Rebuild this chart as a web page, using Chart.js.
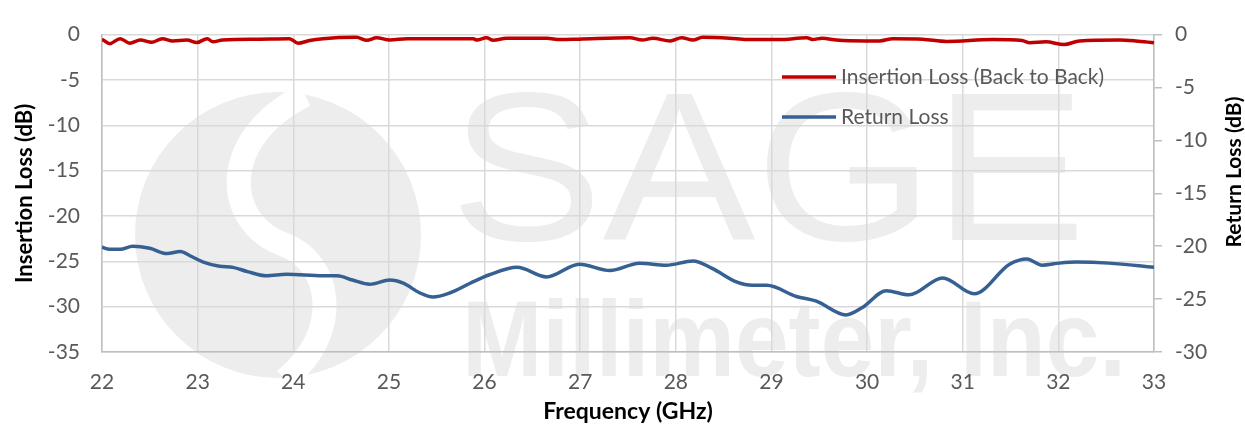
<!DOCTYPE html>
<html>
<head>
<meta charset="utf-8">
<script src="https://cdn.jsdelivr.net/npm/chart.js@4/dist/chart.umd.min.js"></script>
<style>
  html, body { margin: 0; padding: 0; background: #fff; }
</style>
</head>
<body>
<canvas id="chartLoss" width="1245" height="426"></canvas>
<script>
// frequency points (GHz)
const freqIL = [22.00, 22.08, 22.19, 22.29, 22.40, 22.52, 22.63, 22.74, 22.89, 22.99,
    23.10, 23.16, 23.26, 23.65, 23.96, 24.05, 24.17, 24.31, 24.66, 24.77,
    24.87, 25.01, 25.19, 25.53, 25.88, 25.92, 26.02, 26.09, 26.23, 26.65,
    26.79, 26.99, 27.52, 27.65, 27.76, 27.94, 28.06, 28.18, 28.28, 28.56,
    28.74, 29.08, 29.37, 29.43, 29.53, 29.68, 29.99, 30.13, 30.27, 30.58,
    30.83, 31.31, 31.62, 31.70, 31.87, 32.06, 32.22, 32.64, 32.81, 33.00];
const insertionLoss = [-0.5, -1.0, -0.45, -0.95, -0.6, -0.85, -0.45, -0.7, -0.6, -0.88,
    -0.45, -0.8, -0.6, -0.5, -0.45, -0.95, -0.65, -0.45, -0.3, -0.63,
    -0.35, -0.6, -0.45, -0.45, -0.45, -0.6, -0.35, -0.63, -0.4, -0.4,
    -0.55, -0.5, -0.35, -0.6, -0.4, -0.7, -0.35, -0.6, -0.3, -0.4,
    -0.55, -0.55, -0.35, -0.55, -0.4, -0.6, -0.7, -0.7, -0.45, -0.5,
    -0.75, -0.55, -0.65, -0.9, -0.8, -1.1, -0.7, -0.6, -0.7, -0.9];

const freqRL = [22.00, 22.08, 22.19, 22.32, 22.50, 22.68, 22.82, 22.92, 23.06, 23.23,
    23.37, 23.52, 23.72, 23.93, 24.31, 24.46, 24.62, 24.80, 25.01, 25.15,
    25.32, 25.46, 25.64, 25.85, 26.05, 26.34, 26.65, 26.99, 27.31, 27.62,
    27.90, 28.18, 28.38, 28.64, 28.80, 28.95, 29.26, 29.47, 29.78, 29.95,
    30.20, 30.44, 30.79, 31.12, 31.49, 31.67, 31.83, 32.01, 32.19, 32.53, 33.00];
const returnLoss = [-20.1, -20.3, -20.3, -20.0, -20.2, -20.7, -20.5, -20.9, -21.5, -21.9,
    -22.0, -22.4, -22.8, -22.65, -22.8, -22.8, -23.2, -23.6, -23.2, -23.5,
    -24.4, -24.8, -24.4, -23.5, -22.7, -22.0, -22.9, -21.7, -22.3, -21.6,
    -21.8, -21.4, -22.1, -23.4, -23.7, -23.7, -24.75, -25.2, -26.5, -25.8,
    -24.2, -24.6, -23.0, -24.5, -21.7, -21.2, -21.8, -21.6, -21.5, -21.6, -22.0];

const seriesNames = ['Insertion Loss (Back to Back)', 'Return Loss'];
const axisTitles = ['Frequency (GHz)', 'Insertion Loss (dB)', 'Return Loss (dB)'];
const watermarkText = ['SAGE', 'Millimeter, Inc.'];

const toPoints = (xs, ys) => xs.map((x, i) => ({ x: x, y: ys[i] }));

Chart.defaults.font.family = 'Lato';

const tickFont = { family: 'Lato', size: 21 };
const gridColor = '#d9d9d9';
const axisColor = '#bfbfbf';

// light grey logo behind the grid
const watermark = {
    id: 'watermark',
    beforeDraw(chart) {
        const ctx = chart.ctx;
        ctx.save();
        ctx.fillStyle = '#ededed';
        ctx.beginPath();
        ctx.arc(278, 235, 143, 0, Math.PI * 2);
        ctx.fill();
        ctx.strokeStyle = '#ffffff';
        ctx.lineWidth = 24;
        ctx.beginPath();
        ctx.moveTo(305, 95);
        ctx.bezierCurveTo(215, 140, 225, 225, 285, 245);
        ctx.bezierCurveTo(330, 262, 345, 330, 285, 380);
        ctx.stroke();

        ctx.fillStyle = '#ededed';
        ctx.textBaseline = 'alphabetic';
        ctx.textAlign = 'left';
        ctx.save();
        ctx.translate(450, 240);
        ctx.scale(1.08, 1);
        ctx.font = '212px "Liberation Sans"';
        ctx.fillText(watermarkText[0], 0, 0);
        ctx.restore();
        ctx.font = 'bold 108px "Liberation Sans"';
        ctx.fillText(watermarkText[1], 462, 376, 664);
        ctx.restore();
    }
};

// legend in the upper right of the plot, right axis title
const extras = {
    id: 'extras',
    afterDraw(chart) {
        const ctx = chart.ctx;
        ctx.save();
        chart.data.datasets.forEach((ds, i) => {
            const y = 77 + i * 40;
            ctx.strokeStyle = ds.borderColor;
            ctx.lineWidth = 3.5;
            ctx.beginPath();
            ctx.moveTo(782, y);
            ctx.lineTo(836, y);
            ctx.stroke();
            ctx.fillStyle = '#595959';
            ctx.font = '21px Lato';
            ctx.textBaseline = 'middle';
            ctx.textAlign = 'left';
            ctx.fillText(ds.label, 841, y);
        });
        ctx.translate(1234, 172);
        ctx.rotate(-Math.PI / 2);
        ctx.fillStyle = '#000';
        ctx.font = 'bold 21px Lato';
        ctx.textAlign = 'center';
        ctx.textBaseline = 'middle';
        ctx.fillText(axisTitles[2], 0, 0);
        ctx.restore();
    }
};

const chartLoss = new Chart(document.getElementById('chartLoss'), {
    type: 'line',
    data: {
        datasets: [
            {
                label: seriesNames[0],
                data: toPoints(freqIL, insertionLoss),
                borderColor: '#c00000',
                borderWidth: 3.5,
                pointRadius: 0,
                cubicInterpolationMode: 'monotone',
                yAxisID: 'y'
            },
            {
                label: seriesNames[1],
                data: toPoints(freqRL, returnLoss),
                borderColor: '#376092',
                borderWidth: 3.5,
                pointRadius: 0,
                cubicInterpolationMode: 'monotone',
                yAxisID: 'y2'
            }
        ]
    },
    options: {
        responsive: false,
        animation: false,
        layout: { padding: { top: 20, left: 0, right: 0, bottom: 0 } },
        plugins: {
            legend: { display: false },
            tooltip: { enabled: false }
        },
        scales: {
            x: {
                type: 'linear',
                position: 'bottom',
                min: 22,
                max: 33,
                ticks: { stepSize: 1, color: '#595959', font: tickFont, padding: 18, maxRotation: 0 },
                grid: { color: gridColor, lineWidth: 1.5, drawTicks: false },
                border: { color: axisColor, width: 1.5 },
                title: { display: true, text: axisTitles[0], color: '#000',
                    font: { family: 'Lato', size: 23, weight: 'bold' }, padding: { top: 0, bottom: 1 } },
                afterFit: (s) => { s.height = 74; }
            },
            y: {
                position: 'left',
                min: -35,
                max: 0,
                ticks: { stepSize: 5, color: '#595959', font: tickFont, padding: 22 },
                grid: { color: gridColor, lineWidth: 1.5, drawTicks: false },
                border: { color: axisColor, width: 1.5 },
                title: { display: true, text: axisTitles[1], color: '#000',
                    font: { family: 'Lato', size: 22, weight: 'bold' }, padding: { top: 12, bottom: 0 } },
                afterFit: (s) => { s.width = 102; }
            },
            y2: {
                position: 'right',
                min: -30,
                max: 0,
                ticks: { stepSize: 5, color: '#595959', font: tickFont, padding: 13 },
                grid: { drawOnChartArea: false, color: axisColor, lineWidth: 1.5, tickLength: 8 },
                border: { color: axisColor, width: 1.5 },
                afterFit: (s) => { s.width = 91; }
            }
        }
    },
    plugins: [watermark, extras]
});
</script>
</body>
</html>
